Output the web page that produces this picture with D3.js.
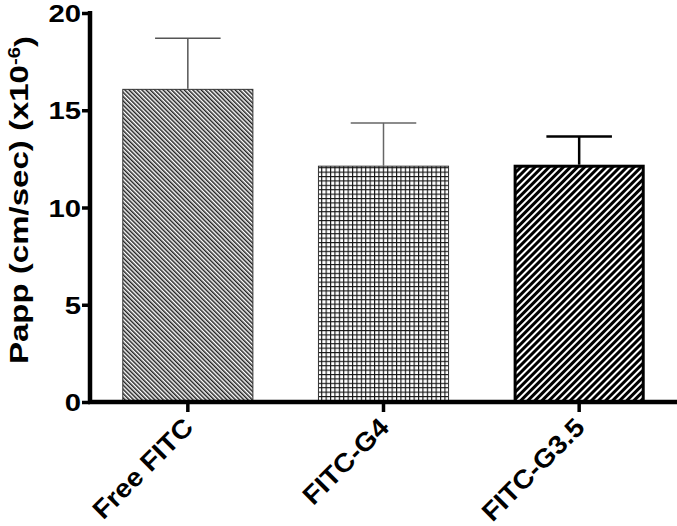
<!DOCTYPE html>
<html>
<head>
<meta charset="utf-8">
<script src="https://cdn.jsdelivr.net/npm/d3@7"></script>
<style>
  html, body { margin: 0; padding: 0; background: #fff; }
  svg { display: block; }
  text { font-family: "Liberation Sans", Arial, Helvetica, sans-serif; font-weight: bold; fill: #000; }
</style>
</head>
<body>
<svg id="chart" width="677" height="526"></svg>
<script>
const categories = ["Free FITC", "FITC-G4", "FITC-G3.5"];
const means = [16.1, 12.15, 12.2];
const errors = [2.6, 2.2, 1.45];
const yTicks = [0, 5, 10, 15, 20];
const yLabel = "Papp (cm/sec) (x10";
const yLabelSup = "-6";

const W = 677, H = 526;
const svg = d3.select("#chart");

const x = d3.scaleBand().domain(categories).range([90, 677]).paddingInner(0.33).paddingOuter(0.165);
const y = d3.scaleLinear().domain([0, 20]).range([402, 13]);

const defs = svg.append("defs");
// Free FITC: fine "\" hatch
const p1 = defs.append("pattern").attr("id", "pat1").attr("patternUnits", "userSpaceOnUse")
  .attr("width", 3).attr("height", 10).attr("patternTransform", "rotate(-45)");
p1.append("rect").attr("width", 3).attr("height", 10).attr("fill", "#fff");
p1.append("rect").attr("x", 0).attr("width", 1.5).attr("height", 10).attr("fill", "#222");
// FITC-G4: square grid
const p2 = defs.append("pattern").attr("id", "pat2").attr("patternUnits", "userSpaceOnUse")
  .attr("width", 4.4).attr("height", 4.4);
p2.append("rect").attr("width", 4.4).attr("height", 4.4).attr("fill", "#fff");
p2.append("rect").attr("width", 1.1).attr("height", 4.4).attr("fill", "#111");
p2.append("rect").attr("width", 4.4).attr("height", 1.1).attr("fill", "#111");
// FITC-G3.5: bold "/" hatch
const p3 = defs.append("pattern").attr("id", "pat3").attr("patternUnits", "userSpaceOnUse")
  .attr("width", 5).attr("height", 10).attr("patternTransform", "rotate(45)");
p3.append("rect").attr("width", 5).attr("height", 10).attr("fill", "#fff");
p3.append("rect").attr("width", 3).attr("height", 10).attr("fill", "#000");

const fills = ["url(#pat1)", "url(#pat2)", "url(#pat3)"];
const strokeW = [1, 1, 3];
const errColor = ["#555", "#666", "#000"];
const errW = [1.5, 1.5, 2.5];

const data = categories.map((c, i) => ({ c, m: means[i], e: errors[i], i }));

// error bars (upper only)
const capHalf = x.bandwidth() * 0.25;
const eb = svg.append("g");
data.forEach(d => {
  const cx = x(d.c) + x.bandwidth() / 2;
  eb.append("line").attr("x1", cx).attr("x2", cx).attr("y1", y(d.m)).attr("y2", y(d.m + d.e))
    .attr("stroke", errColor[d.i]).attr("stroke-width", errW[d.i]);
  eb.append("line").attr("x1", cx - capHalf).attr("x2", cx + capHalf).attr("y1", y(d.m + d.e)).attr("y2", y(d.m + d.e))
    .attr("stroke", errColor[d.i]).attr("stroke-width", errW[d.i]);
});

// bars
svg.append("g").selectAll("rect").data(data).join("rect")
  .attr("x", d => x(d.c) + strokeW[d.i] / 2)
  .attr("y", d => y(d.m) + strokeW[d.i] / 2)
  .attr("width", d => x.bandwidth() - strokeW[d.i])
  .attr("height", d => y(0) - y(d.m) - strokeW[d.i] / 2)
  .attr("fill", d => fills[d.i])
  .attr("stroke", d => d.i === 2 ? "#000" : "#333")
  .attr("stroke-width", d => strokeW[d.i]);

// y axis
const yAxis = svg.append("g").attr("transform", "translate(90,0)")
  .call(d3.axisLeft(y).tickValues(yTicks).tickSize(8).tickPadding(1).tickFormat(d3.format("d")));
yAxis.select(".domain").attr("d", `M0,${y(20) - 2}V${y(0) + 2}`).attr("stroke", "#000").attr("stroke-width", 4.5);
yAxis.selectAll(".tick line").attr("stroke", "#000").attr("stroke-width", 3.5);
yAxis.selectAll(".tick text").style("font-size", "24px").attr("font-family", null).attr("fill", "#000")
  .attr("dy", "0.36em")
  .each(function () { const l = this.getComputedTextLength(); d3.select(this).attr("textLength", l * 1.22).attr("lengthAdjust", "spacingAndGlyphs"); });

// x axis
const xAxis = svg.append("g").attr("transform", `translate(0,${y(0)})`)
  .call(d3.axisBottom(x).tickSize(10).tickFormat(""));
xAxis.select(".domain").attr("d", `M88,0H677`).attr("stroke", "#000").attr("stroke-width", 4.5);
xAxis.selectAll(".tick line").attr("stroke", "#000").attr("stroke-width", 3.5);
xAxis.selectAll(".tick").append("text")
  .attr("transform", "translate(7,27) rotate(-45)")
  .attr("text-anchor", "end")
  .style("font-size", "26px")
  .text(d => d)
  .each(function () { const l = this.getComputedTextLength(); d3.select(this).attr("textLength", l * 1.08).attr("lengthAdjust", "spacingAndGlyphs"); });

// y label
const yl = svg.append("text")
  .attr("transform", "translate(28,200) rotate(-90) scale(1.27,1)")
  .attr("text-anchor", "middle")
  .style("font-size", "26px");
yl.append("tspan").text(yLabel);
yl.append("tspan").attr("dy", "-0.5em").style("font-size", "16px").text(yLabelSup);
yl.append("tspan").attr("dy", "0.5em").text(")");
</script>
</body>
</html>
